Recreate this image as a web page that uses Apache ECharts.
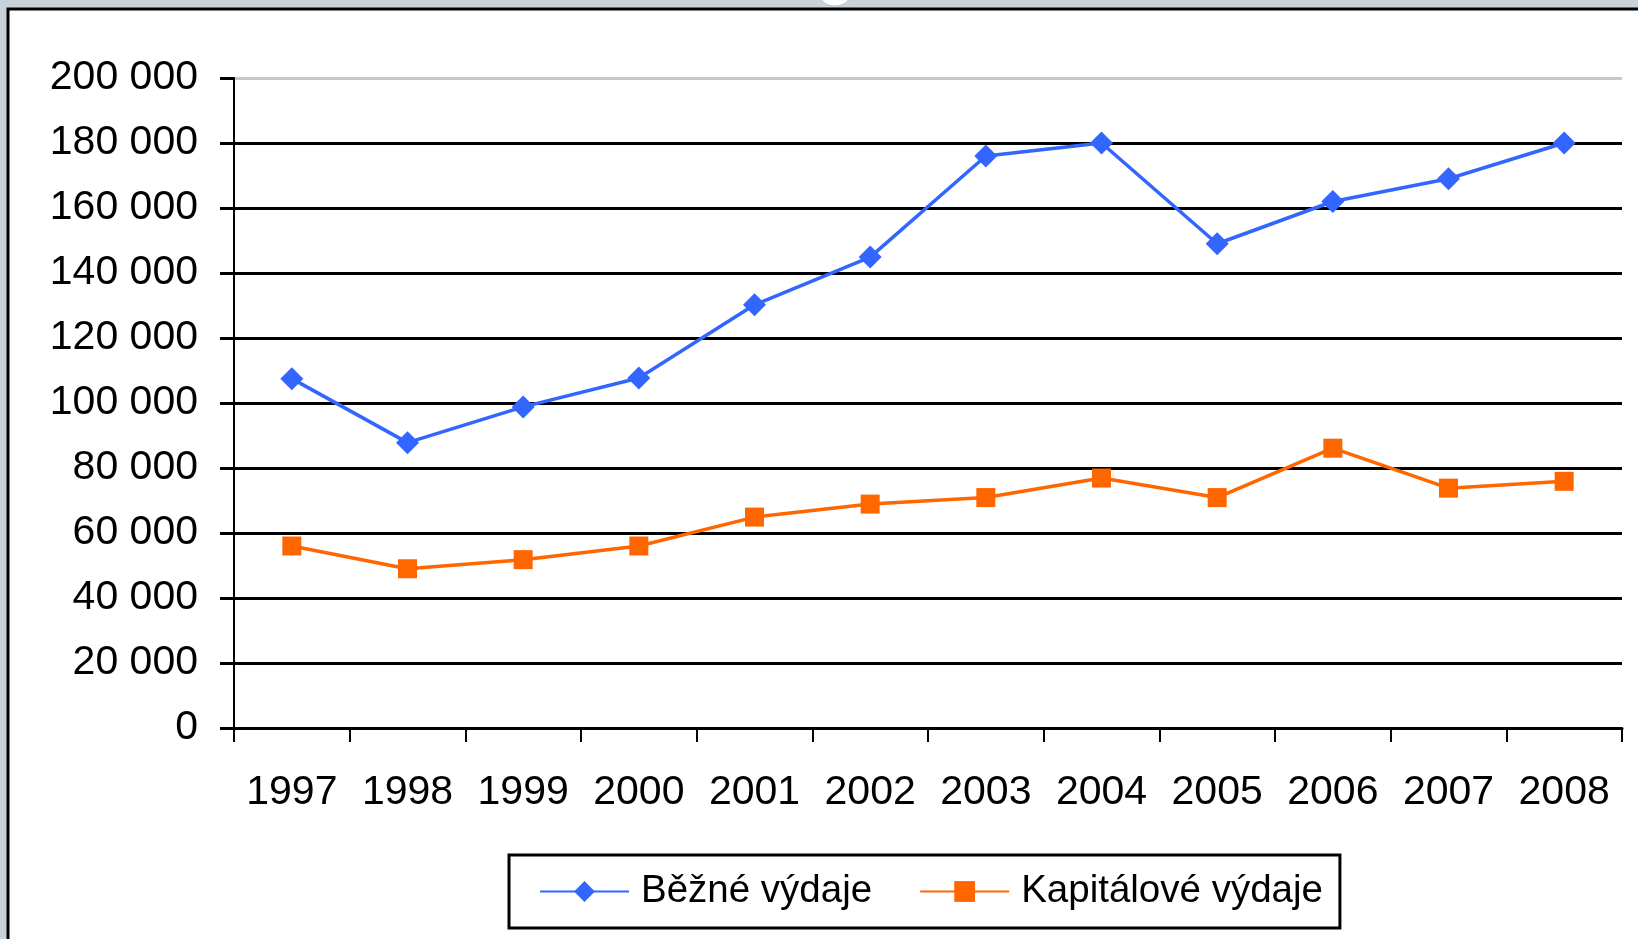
<!DOCTYPE html>
<html>
<head>
<meta charset="utf-8">
<script src="https://cdn.jsdelivr.net/npm/echarts@6/dist/echarts.min.js"></script>
<style>
html,body{margin:0;padding:0;background:#c8d2d8;}
#chart{width:1638px;height:939px;}
</style>
</head>
<body>
<div id="chart"></div>
<script>
const years = ['1997','1998','1999','2000','2001','2002','2003','2004','2005','2006','2007','2008'];
const bezneVydaje = [107500, 87800, 98800, 107700, 130200, 144900, 176000, 180000, 149000, 162000, 169000, 180000];
const kapitaloveVydaje = [56000, 49000, 51800, 56000, 64900, 68900, 70900, 76900, 70900, 86100, 73800, 75900];
const seriesNames = ['Běžné výdaje', 'Kapitálové výdaje'];

const FONT = '"Liberation Sans", Arial, sans-serif';
const chart = echarts.init(document.getElementById('chart'), null, {renderer: 'canvas'});

const gridColors = [];
for (let i = 0; i <= 10; i++) gridColors.push(i === 10 ? '#c8c8c8' : '#000000');

chart.setOption({
  backgroundColor: '#c8d2d8',
  animation: false,
  graphic: [
    {type: 'rect', z: -10, shape: {x: 8, y: 9, width: 1700, height: 1000},
     style: {fill: '#ffffff', stroke: '#000000', lineWidth: 3}},
    {type: 'ellipse', z: -11, shape: {cx: 835, cy: -3, rx: 14, ry: 9},
     style: {fill: '#ffffff', stroke: '#b8c2c8', lineWidth: 1}}
  ],
  grid: {left: 234, right: 16, top: 78, bottom: 211, containLabel: false},
  legend: {
    left: 509, top: 855,
    orient: 'horizontal',
    padding: [17, 17, 17, 30],
    borderColor: '#000000', borderWidth: 3,
    backgroundColor: '#ffffff',
    itemWidth: 89, itemHeight: 26, itemGap: 47,
    textStyle: {fontFamily: FONT, fontSize: 38.5, color: '#000000', padding: [0, 0, 0, 7]},
    data: seriesNames
  },
  xAxis: {
    type: 'category',
    data: years,
    boundaryGap: true,
    axisLine: {show: true, lineStyle: {color: '#000000', width: 3}},
    axisTick: {show: true, inside: false, length: 14, lineStyle: {color: '#000000', width: 2}, alignWithLabel: false},
    axisLabel: {fontFamily: FONT, fontSize: 41, color: '#000000', margin: 44, interval: 0},
    splitLine: {show: false}
  },
  yAxis: {
    type: 'value',
    min: 0, max: 200000, interval: 20000,
    axisLine: {show: true, lineStyle: {color: '#000000', width: 2}},
    axisTick: {show: true, inside: false, length: 14, lineStyle: {color: '#000000', width: 3}},
    axisLabel: {
      fontFamily: FONT, fontSize: 41, color: '#000000', margin: 36,
      formatter: function (v) { return String(v).replace(/\B(?=(\d{3})+(?!\d))/g, ' '); }
    },
    splitLine: {show: true, lineStyle: {color: gridColors, width: 3}}
  },
  series: [
    {
      name: seriesNames[0], type: 'line', data: bezneVydaje,
      symbol: 'diamond', symbolSize: 23,
      lineStyle: {color: '#3366ff', width: 3.5},
      itemStyle: {color: '#3366ff'}
    },
    {
      name: seriesNames[1], type: 'line', data: kapitaloveVydaje,
      symbol: 'rect', symbolSize: 19,
      lineStyle: {color: '#ff6600', width: 3.5},
      itemStyle: {color: '#ff6600'}
    }
  ]
});
</script>
</body>
</html>
